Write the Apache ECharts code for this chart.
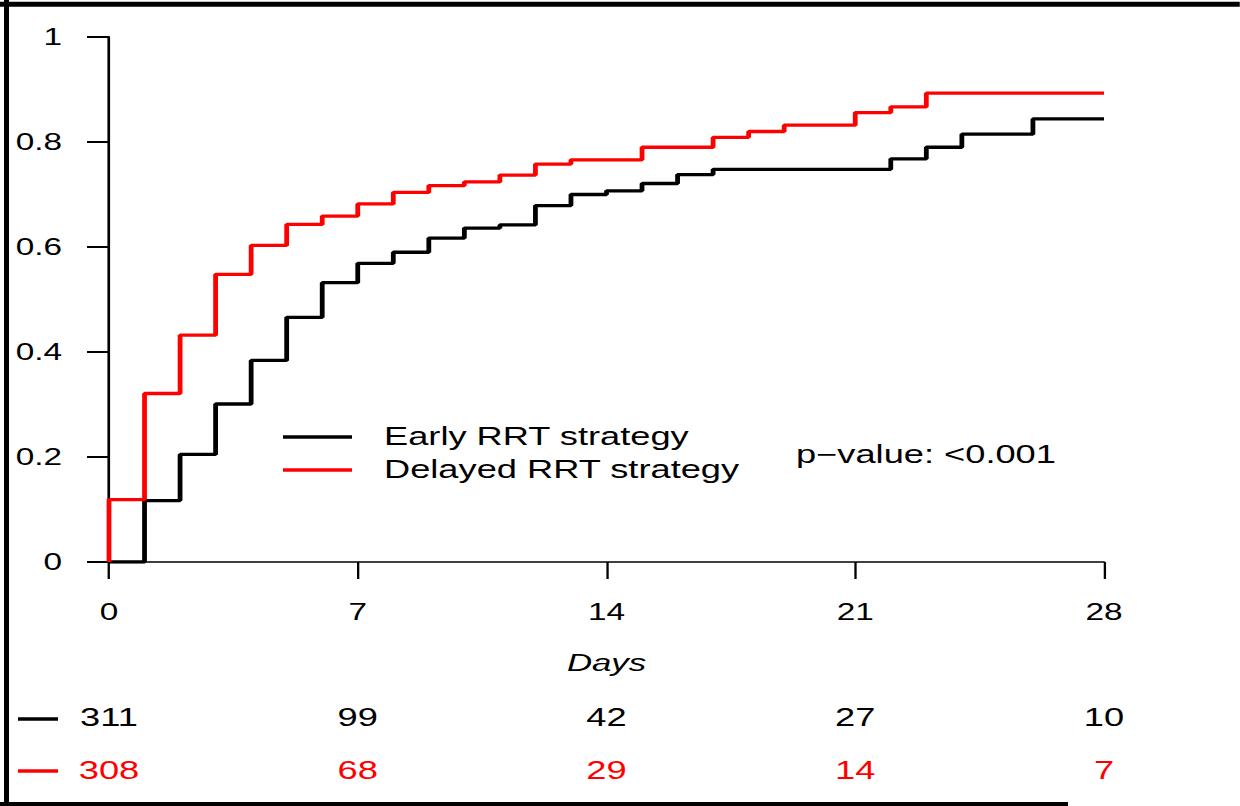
<!DOCTYPE html>
<html>
<head>
<meta charset="utf-8">
<script src="https://cdn.jsdelivr.net/npm/echarts@6/dist/echarts.min.js"></script>
<style>
  html, body { margin: 0; padding: 0; background: #fff; }
  #wrap { width: 1240px; height: 806px; overflow: hidden; position: relative; }
  #chart { height: 806px; transform-origin: 0 0; position: absolute; left: 0; top: 0; }
</style>
</head>
<body>
<div id="wrap"><div id="chart"></div></div>
<script>
// ---- data ----
const seriesNames = ['Early RRT strategy', 'Delayed RRT strategy'];
const earlyDays   = [0, 1, 2, 3, 4, 5, 6, 7, 8, 9, 10, 11, 12, 13, 14, 15, 16, 17, 22, 23, 24, 26, 28];
const earlyValues = [0, 0.117, 0.205, 0.301, 0.384, 0.466, 0.532, 0.569, 0.590, 0.617, 0.636, 0.642, 0.679, 0.700, 0.707, 0.721, 0.738, 0.748, 0.768, 0.790, 0.815, 0.844, 0.844];
const delayedDays   = [0, 0, 1, 2, 3, 4, 5, 6, 7, 8, 9, 10, 11, 12, 13, 15, 17, 18, 19, 21, 22, 23, 28];
const delayedValues = [0, 0.119, 0.321, 0.432, 0.548, 0.603, 0.643, 0.659, 0.682, 0.704, 0.717, 0.724, 0.737, 0.758, 0.766, 0.790, 0.809, 0.820, 0.832, 0.856, 0.867, 0.893, 0.893];
const xTicks = [0, 7, 14, 21, 28];
const earlyAtRisk   = [311, 99, 42, 27, 10];
const delayedAtRisk = [308, 68, 29, 14, 7];
const pValueText = 'p\u2212value: <0.001';
const xAxisTitle = 'Days';

// ---- layout (reference is horizontally stretched) ----
const S = 1.45;
const W = 1240 / S;
const el = document.getElementById('chart');
el.style.width = W + 'px';
el.style.transform = 'scaleX(' + S + ')';
const px = x => x / S;
const FONT = '"Liberation Sans", Arial, Helvetica, sans-serif';

const zip = (a, b) => a.map((d, i) => [d, b[i]]);

const chart = echarts.init(el, null, { renderer: 'svg', width: W, height: 806 });

const baseX = {
  type: 'value', min: 0, max: 28, interval: 7, gridIndex: 0,
  splitLine: { show: false }
};

chart.setOption({
  animation: false,
  backgroundColor: '#fff',
  textStyle: { fontFamily: FONT },
  grid: { left: px(109), right: 1240 / S - px(1104), top: 37, bottom: 806 - 562, containLabel: false },
  legend: {
    orient: 'vertical', left: px(283), top: 424.5, padding: 0,
    itemWidth: px(352) - px(283), itemHeight: 3.4, itemGap: 8,
    icon: 'rect',
    textStyle: { fontSize: 25, color: '#000', fontFamily: FONT, padding: [0, 0, 0, px(384) - px(352) - 5] },
    data: seriesNames
  },
  xAxis: [
    Object.assign({}, baseX, {
      position: 'bottom',
      name: xAxisTitle, nameLocation: 'middle', nameGap: 101,
      nameTextStyle: { fontStyle: 'italic', fontSize: 24, color: '#000', verticalAlign: 'middle', fontFamily: FONT },
      axisLine: { show: true, onZero: false, lineStyle: { color: '#000', width: 1.7 } },
      axisTick: { show: true, length: 17, lineStyle: { color: '#000', width: 1.6 } },
      axisLabel: { show: true, margin: 50, verticalAlign: 'middle', fontSize: 23, color: '#000', fontFamily: FONT, showMinLabel: true, showMaxLabel: true }
    }),
    Object.assign({}, baseX, {
      position: 'bottom',
      axisLine: { show: false }, axisTick: { show: false },
      axisLabel: { show: true, margin: 156, verticalAlign: 'middle', fontSize: 25, color: '#000', fontFamily: FONT, showMinLabel: true, showMaxLabel: true,
        formatter: v => { const i = xTicks.indexOf(v); return i >= 0 ? String(earlyAtRisk[i]) : ''; } }
    }),
    Object.assign({}, baseX, {
      position: 'bottom',
      axisLine: { show: false }, axisTick: { show: false },
      axisLabel: { show: true, margin: 209, verticalAlign: 'middle', fontSize: 25, color: '#ff0000', fontFamily: FONT, showMinLabel: true, showMaxLabel: true,
        formatter: v => { const i = xTicks.indexOf(v); return i >= 0 ? String(delayedAtRisk[i]) : ''; } }
    })
  ],
  yAxis: {
    type: 'value', min: 0, max: 1, interval: 0.2,
    splitLine: { show: false },
    axisLine: { show: true, onZero: false, lineStyle: { color: '#000', width: 1.85 } },
    axisTick: { show: true, length: px(22), lineStyle: { color: '#000', width: 2 } },
    axisLabel: { margin: px(109) - px(62), fontSize: 23, color: '#000', fontFamily: FONT }
  },
  series: [
    {
      name: seriesNames[0], type: 'line', step: 'end', showSymbol: false,
      data: zip(earlyDays, earlyValues),
      lineStyle: { color: '#000', width: 3.3 }, itemStyle: { color: '#000' }, z: 3
    },
    {
      name: seriesNames[1], type: 'line', step: 'end', showSymbol: false,
      data: zip(delayedDays, delayedValues),
      lineStyle: { color: '#ff0000', width: 3.3 }, itemStyle: { color: '#ff0000' }, z: 4
    }
  ],
  graphic: [
    { type: 'text', left: px(796), top: 455 - 12.5, style: { text: pValueText, fontSize: 25, fill: '#000', font: '25px ' + FONT } },
    { type: 'line', shape: { x1: px(18), y1: 719, x2: px(58), y2: 719 }, style: { stroke: '#000', lineWidth: 3.5 } },
    { type: 'line', shape: { x1: px(18), y1: 771, x2: px(58), y2: 771 }, style: { stroke: '#ff0000', lineWidth: 3.5 } },
    { type: 'line', shape: { x1: 0, y1: 4.2, x2: W, y2: 4.2 }, style: { stroke: '#000', lineWidth: 5 } },
    { type: 'line', shape: { x1: px(6.5), y1: 0, x2: px(6.5), y2: 806 }, style: { stroke: '#000', lineWidth: px(5) } },
    { type: 'line', shape: { x1: 0, y1: 804, x2: px(1068), y2: 804 }, style: { stroke: '#000', lineWidth: 4 } }
  ]
});
</script>
</body>
</html>
